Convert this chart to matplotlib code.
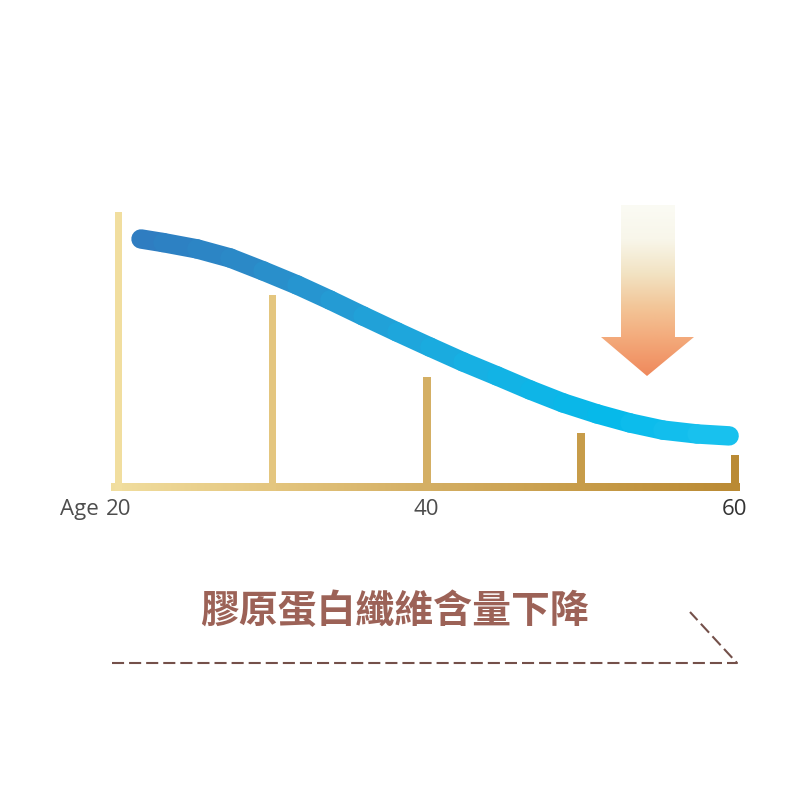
import numpy as np
import matplotlib
matplotlib.use('Agg')
import matplotlib.pyplot as plt
from matplotlib.collections import LineCollection
from matplotlib.colors import LinearSegmentedColormap
from matplotlib.patches import Polygon

plt.rcParams['font.family'] = ['Open Sans', 'DejaVu Sans']

# data
bar_ages = np.array([20, 30, 40, 50, 60])
bar_levels = np.array([100, 69.8, 40, 19.6, 11.6])
curve_ages = np.array([21.46, 22.89, 25.09, 27.24, 29.38, 31.58, 33.72, 35.87, 38.07, 40.21,
                       42.36, 44.56, 46.70, 48.84, 51.05, 53.19, 55.33, 57.54, 59.62])
curve_levels = np.array([90.2, 88.9, 86.6, 83.3, 78.6, 73.5, 68.0, 62.2, 56.4, 50.9,
                         45.5, 40.4, 35.3, 30.6, 26.6, 23.3, 20.7, 19.3, 18.6])
tick_ages = [20, 40, 60]
tick_labels = ['20', '40', '60']
title = '膠原蛋白纖維含量下降'

# colours
gold = LinearSegmentedColormap.from_list('gold', ['#f1de9f', '#e4c67f', '#d4af64', '#c79c49', '#ba8a34'])
blue = LinearSegmentedColormap.from_list('blue', ['#2f7cc0', '#2a8bc8', '#22a0d8', '#15b2e4', '#06b9ea', '#1ac2ef'])
warm = LinearSegmentedColormap.from_list('warm', ['#fbfbf4', '#f8f6ea', '#f2e3c3', '#f3c597', '#f3a778', '#ef895c'])

fig = plt.figure(figsize=(8, 8), dpi=100)

# chart axes: ages along x, collagen level along y
ax = fig.add_axes([0, 0, 1, 1])
ax.set_xlim(12.31, 64.22)
ax.set_ylim(-113.8, 177.1)
ax.axis('off')

norm = plt.Normalize(bar_ages.min(), bar_ages.max())
base_half = 1.45
bar_w = 0.5

# baseline with horizontal gradient
grad = np.linspace(0, 1, 256).reshape(1, -1)
ax.imshow(grad, cmap=gold, aspect='auto', interpolation='bicubic',
          extent=[bar_ages.min() - bar_w, bar_ages.max() + bar_w / 2, -base_half, base_half],
          zorder=2)

# vertical bars
ax.bar(bar_ages, bar_levels + base_half, bottom=-base_half, width=bar_w,
       color=gold(norm(bar_ages)), linewidth=0, zorder=2)

# gradient curve
pts = np.column_stack([curve_ages, curve_levels])
segs = np.stack([pts[:-1], pts[1:]], axis=1)
mids = (curve_ages[:-1] + curve_ages[1:]) / 2
cnorm = plt.Normalize(curve_ages.min(), curve_ages.max())
lc = LineCollection(segs, colors=blue(cnorm(mids)), linewidths=14, capstyle='round',
                    joinstyle='round', zorder=3)
ax.add_collection(lc)

# tick labels
for a, lab in zip(tick_ages, tick_labels):
    col = '#333333' if lab == '60' else '#4d4d4d'
    ax.text(a, -10.2, lab, ha='center', va='baseline', fontsize=16, color=col)
ax.annotate('Age', xy=(20, -10.2), xytext=(-14, 0), textcoords='offset points',
            ha='right', va='baseline', fontsize=16, color='#4d4d4d')

# decoration layer in pixel coordinates
deco = fig.add_axes([0, 0, 1, 1])
deco.set_xlim(0, 800)
deco.set_ylim(800, 0)
deco.axis('off')
deco.patch.set_alpha(0)

arrow = Polygon([(621, 205), (675, 205), (675, 337), (694, 337), (647, 376),
                 (601, 337), (621, 337)], closed=True, facecolor='none', edgecolor='none')
deco.add_patch(arrow)
vgrad = np.linspace(0, 1, 256).reshape(-1, 1)
im = deco.imshow(vgrad, cmap=warm, aspect='auto', extent=[601, 694, 376, 205], origin='upper')
im.set_clip_path(arrow)
deco.set_xlim(0, 800)
deco.set_ylim(800, 0)

deco.text(394, 612, title, ha='center', va='center', fontsize=28, fontweight='bold',
          color='#9c6257', family=['Noto Sans CJK TC', 'DejaVu Sans'])
deco.plot([112, 737, 690], [663, 663, 612], color='#74504a', linewidth=1.5,
          linestyle=(0, (5.8, 2.4)))

fig.savefig('out.png', dpi=100, facecolor='white')
